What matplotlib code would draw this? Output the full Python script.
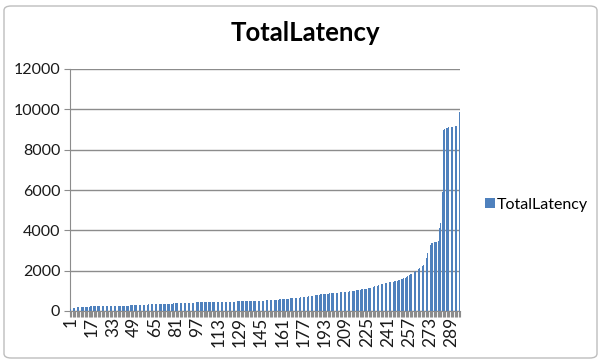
import matplotlib.pyplot as plt
import numpy as np
from matplotlib.patches import FancyBboxPatch

# sorted TotalLatency values, one per request (295 of them)
latency = [
    100, 130, 150, 170, 180, 190, 200, 200, 210, 210,
    210, 220, 220, 220, 220, 225, 225, 225, 230, 230,
    230, 230, 230, 235, 235, 235, 235, 240, 240, 240,
    240, 240, 245, 245, 245, 250, 250, 250, 255, 255,
    260, 260, 265, 265, 270, 275, 280, 280, 285, 285,
    290, 290, 295, 300, 300, 305, 310, 315, 320, 325,
    325, 330, 330, 335, 335, 340, 340, 345, 345, 350,
    350, 355, 355, 360, 360, 365, 370, 370, 375, 375,
    380, 380, 385, 385, 390, 390, 395, 395, 400, 400,
    405, 405, 410, 415, 420, 425, 430, 430, 430, 430,
    432, 432, 435, 435, 435, 435, 438, 438, 440, 440,
    440, 440, 440, 445, 445, 448, 450, 450, 455, 455,
    460, 460, 465, 465, 470, 470, 475, 475, 480, 480,
    482, 484, 486, 488, 490, 490, 492, 494, 496, 498,
    500, 500, 500, 505, 505, 510, 515, 520, 525, 530,
    535, 540, 545, 550, 555, 560, 565, 570, 575, 575,
    580, 585, 590, 600, 605, 610, 620, 625, 630, 640,
    645, 650, 655, 660, 670, 675, 680, 690, 700, 710,
    720, 730, 740, 750, 760, 770, 790, 800, 815, 825,
    835, 845, 850, 855, 860, 865, 870, 880, 885, 890,
    900, 905, 910, 915, 920, 925, 935, 940, 950, 955,
    960, 970, 980, 990, 1000, 1010, 1020, 1040, 1050, 1060,
    1070, 1080, 1090, 1095, 1100, 1120, 1140, 1160, 1180, 1200,
    1220, 1240, 1260, 1280, 1300, 1320, 1340, 1360, 1380, 1400,
    1420, 1430, 1440, 1450, 1460, 1480, 1490, 1500, 1520, 1540,
    1570, 1600, 1630, 1660, 1700, 1730, 1770, 1810, 1840, 1870,
    1920, 1980, 2030, 2080, 2120, 2170, 2220, 2280, 2400, 2620,
    2900, 3120, 3280, 3350, 3380, 3400, 3420, 3440, 3460, 4120,
    4350, 5900, 9000, 9040, 9060, 9080, 9100, 9110, 9120, 9140,
    9150, 9160, 9180, 9200, 9850,
]
yticks = [0, 2000, 4000, 6000, 8000, 10000, 12000]
label_step = 16  # Excel shows every 16th category label

plt.rcParams['font.family'] = ['Lato', 'DejaVu Sans']

n = len(latency)
x = np.arange(1, n + 1)

fig = plt.figure(figsize=(6.01, 3.63), dpi=100)
fig.patch.set_facecolor('white')
ax = fig.add_axes([70 / 601, 1 - 311 / 363, 390 / 601, 242 / 363])

ax.bar(x, latency, width=0.62, color='#4F81BD', edgecolor='none', zorder=3,
       label='TotalLatency')

ax.set_xlim(0.5, n + 0.5)
ax.set_ylim(0, 12000)
ax.set_yticks(yticks)
ax.set_yticklabels([str(v) for v in yticks])
ax.yaxis.grid(True, color='#8c8c8c', linewidth=1.0, zorder=0)

shown = x[::label_step]
ax.set_xticks(shown)
ax.set_xticklabels([str(v) for v in shown], rotation=90)
ax.set_xticks(np.arange(0.5, n + 1), minor=True)

for side in ['top', 'right']:
    ax.spines[side].set_visible(False)
for side in ['left', 'bottom']:
    ax.spines[side].set_color('#8c8c8c')
ax.tick_params(axis='y', length=4, color='#8c8c8c', labelsize=11.5,
               labelcolor='#1a1a1a', pad=3)
ax.tick_params(axis='x', which='major', length=0, labelsize=12.5,
               labelcolor='#1a1a1a', pad=4)
ax.tick_params(axis='x', which='minor', length=4, color='#8c8c8c', width=0.8)

fig.text(305 / 601, 1 - 33 / 363, 'TotalLatency', ha='center', va='center',
         fontsize=18.5, fontweight='bold', color='black')

leg = fig.legend(loc='center left', bbox_to_anchor=(471 / 601, 1 - 205 / 363),
                 frameon=False, fontsize=11.5, handlelength=0.6, handleheight=0.6,
                 handletextpad=0.1)

# Excel chart frame
frame = FancyBboxPatch((4 / 601, 5 / 363), 593 / 601, 352 / 363,
                       boxstyle='round,pad=0,rounding_size=0.012',
                       transform=fig.transFigure, facecolor='none',
                       edgecolor='#bdbdbd', linewidth=1.0)
fig.patches.append(frame)

fig.savefig('out.png', dpi=100, facecolor='white')
